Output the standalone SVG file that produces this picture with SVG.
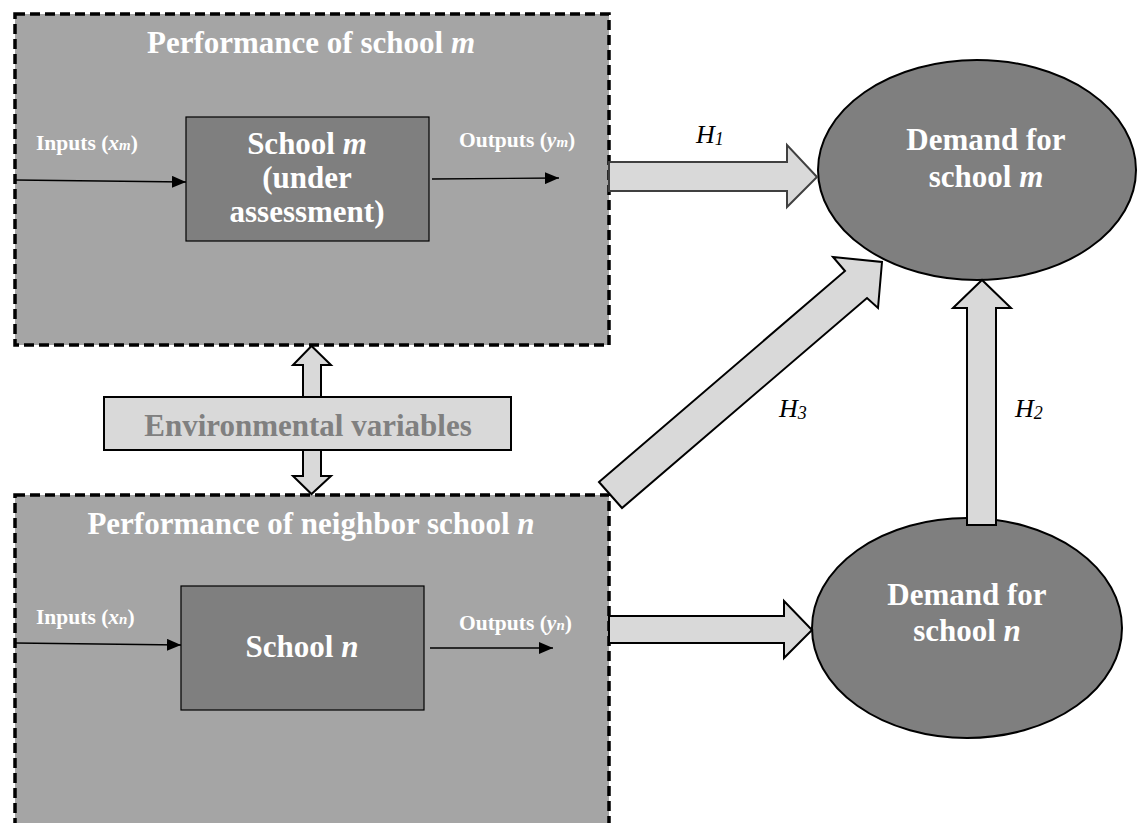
<svg xmlns="http://www.w3.org/2000/svg" width="1138" height="823" viewBox="0 0 1138 823">
<defs>
<style>
.outer{fill:#a5a5a5;stroke:#000;stroke-width:3.5;stroke-dasharray:10 5}
.inner{fill:#7f7f7f;stroke:#000;stroke-width:1.2}
.ell{fill:#7f7f7f;stroke:#000;stroke-width:2}
.blk{fill:#d9d9d9;stroke:#000;stroke-width:2;stroke-linejoin:miter}
.blkg{fill:#d9d9d9;stroke:#404040;stroke-width:2}
.ln{stroke:#000;stroke-width:1.3;fill:none}
.w{font-family:"Liberation Serif",serif;font-weight:bold;fill:#fff}
.h{font-family:"Liberation Serif",serif;font-style:italic;fill:#000;font-size:26px}
</style>
<marker id="ah" markerWidth="14" markerHeight="12" refX="14" refY="6" orient="auto" markerUnits="userSpaceOnUse">
<path d="M0,0 L14,6 L0,12 z" fill="#000"/>
</marker>
</defs>

<g id="perf-m">
<rect class="outer" x="15" y="14" width="594" height="331"/>
<text class="w" x="311" y="53" font-size="31" text-anchor="middle">Performance of school <tspan font-style="italic">m</tspan></text>
<text class="w" x="36" y="150" font-size="21.5">Inputs (<tspan font-style="italic">x</tspan><tspan font-style="italic" font-size="15">m</tspan>)</text>
<text class="w" x="459" y="147" font-size="21.5">Outputs (<tspan font-style="italic">y</tspan><tspan font-style="italic" font-size="15">m</tspan>)</text>
</g>
<g id="school-m">
<rect class="inner" x="186" y="117" width="243" height="124"/>
<text class="w" x="307" y="154" font-size="31" text-anchor="middle">School <tspan font-style="italic">m</tspan></text>
<text class="w" x="307" y="188" font-size="31" text-anchor="middle">(under</text>
<text class="w" x="307" y="222" font-size="31" text-anchor="middle">assessment)</text>
</g>

<g id="perf-n">
<rect class="outer" x="15" y="495" width="594" height="345"/>
<text class="w" x="311" y="534" font-size="31" text-anchor="middle">Performance of neighbor school <tspan font-style="italic">n</tspan></text>
<text class="w" x="36" y="624" font-size="21.5">Inputs (<tspan font-style="italic">x</tspan><tspan font-style="italic" font-size="15">n</tspan>)</text>
<text class="w" x="459" y="630" font-size="21.5">Outputs (<tspan font-style="italic">y</tspan><tspan font-style="italic" font-size="15">n</tspan>)</text>
</g>
<g id="school-n">
<rect class="inner" x="181" y="586" width="243" height="124"/>
<text class="w" x="302" y="657" font-size="31" text-anchor="middle">School <tspan font-style="italic">n</tspan></text>
</g>

<g id="env">
<rect class="blk" x="104" y="397" width="407" height="53"/>
<text x="308" y="436" font-size="31" text-anchor="middle" font-family="Liberation Serif, serif" font-weight="bold" fill="#808080">Environmental variables</text>
</g>

<g id="demand-m">
<ellipse class="ell" cx="977" cy="170" rx="159" ry="110"/>
<text class="w" x="986" y="150" font-size="31" text-anchor="middle">Demand for</text>
<text class="w" x="986" y="187" font-size="31" text-anchor="middle">school <tspan font-style="italic">m</tspan></text>
</g>

<g id="demand-n">
<ellipse class="ell" cx="967" cy="628" rx="155" ry="110"/>
<text class="w" x="967" y="605" font-size="31" text-anchor="middle">Demand for</text>
<text class="w" x="967" y="641" font-size="31" text-anchor="middle">school <tspan font-style="italic">n</tspan></text>
</g>

<g id="connectors">
<line class="ln" x1="15" y1="180" x2="186" y2="182" marker-end="url(#ah)"/>
<line class="ln" x1="432" y1="179" x2="559" y2="178" marker-end="url(#ah)"/>
<line class="ln" x1="15" y1="643" x2="181" y2="645" marker-end="url(#ah)"/>
<line class="ln" x1="430" y1="648" x2="553" y2="648" marker-end="url(#ah)"/>

<polygon class="blkg" points="609,162 787,162 787,145 817,177 787,207 787,191 609,191"/>
<polygon class="blk" points="609,616 784,616 784,601 812,630 784,658 784,643 609,643"/>
<polygon class="blk" points="967,525 967,308 953,308 982,280 1011,308 996,308 996,525"/>
<polygon class="blk" points="599,482 845,271 833,257 882,262 878,308 867,298 622,508"/>
<polygon class="blk" points="303,397 303,365 293,365 311.5,346 331,365 321,365 321,397"/>
<polygon class="blk" points="303,450 303,476 293,476 311.5,494 331,476 321,476 321,450"/>

<text class="h" x="696" y="143">H<tspan font-size="18" dy="2">1</tspan></text>
<text class="h" x="779" y="417">H<tspan font-size="18" dy="2">3</tspan></text>
<text class="h" x="1015" y="417">H<tspan font-size="18" dy="2">2</tspan></text>
</g>
</svg>
